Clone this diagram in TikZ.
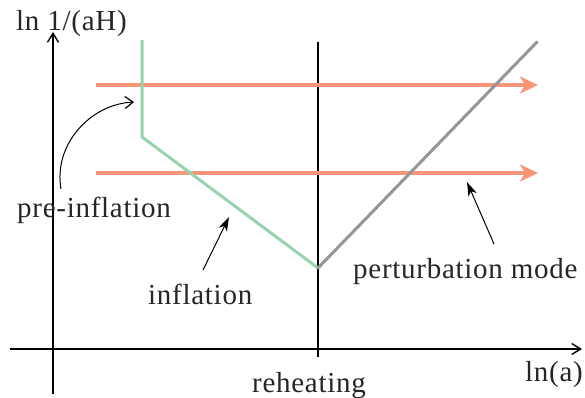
\documentclass[tikz,border=0pt]{standalone}
\usepackage{fontspec}
\setmainfont{Liberation Serif}
\newfontfamily\lblfont{Liberation Serif}[LetterSpace=2.5]
\usetikzlibrary{arrows.meta}
\definecolor{modeorange}{RGB}{249,150,120}
\definecolor{infgreen}{RGB}{150,212,172}
\definecolor{radgray}{RGB}{150,150,152}
\tikzset{
  axis/.style={line width=1.2pt, -{Straight Barb[length=9pt,width=11pt,line width=1.4pt]}},
  guide/.style={line width=1.1pt},
  mode/.style={modeorange, line width=3.2pt, -{Stealth[length=18pt,width=17pt,inset=5pt]}, shorten >=-2pt},
  curve/.style={line width=3pt},
  pointer/.style={line width=1pt, -{Stealth[length=14pt,width=9pt,inset=4pt]}},
  lbl/.style={font=\lblfont\fontsize{29}{32}\selectfont, inner sep=0pt, anchor=base west, text=black!85},
}
\begin{document}
\begin{tikzpicture}[x=1pt,y=-1pt]
\useasboundingbox (0,0) rectangle (585,398);
% axes
\coordinate (xs) at (10,349);
\coordinate (xe) at (582,349);
\coordinate (ys) at (53,394);
\coordinate (ye) at (53,32);
\draw[axis] (xs) -- (xe);
\draw[axis] (ys) -- (ye);
% reheating line
\coordinate (rt) at (318,42);
\coordinate (rb) at (318,357);
\draw[guide] (rt) -- (rb);
% green (pre-inflation + inflation)
\coordinate (g0) at (142,40);
\coordinate (g1) at (142,137);
\coordinate (g2) at (318,268);
\coordinate (g3) at (537,42);
% perturbation modes
\coordinate (m1s) at (96,85);
\coordinate (m1e) at (536,85);
\coordinate (m2s) at (96,173);
\coordinate (m2e) at (536,173);
\draw[mode] (m1s) -- (m1e);
\draw[mode] (m2s) -- (m2e);
\draw[curve, infgreen, line join=miter] (g0) -- (g1) -- (g2);
\draw[curve, radgray, line cap=round] (g2) -- (g3);
% labels
\node[lbl] (yl) at (16,31) {ln 1/(aH)};
\node[lbl] (pre) at (17,217) {pre-inflation};
\node[lbl] (inf) at (148,304) {inflation};
\node[lbl] (pm) at (353,278) {perturbation mode};
\node[lbl] (reh) at (252,392) {reheating};
\node[lbl] (xl) at (525,381) {ln(a)};
% pointers
\coordinate (c1s) at (61,189);
\coordinate (c1e) at (134,102);
\draw[line width=1pt, -{Straight Barb[length=8pt,width=12pt,line width=1.2pt]}] (c1s) to[out=100,in=183] (c1e);
\coordinate (c2s) at (203,270);
\coordinate (c2e) at (229,217);
\draw[pointer] (c2s) -- (c2e);
\coordinate (c3s) at (494,244);
\coordinate (c3e) at (467,182);
\draw[pointer] (c3s) -- (c3e);
\end{tikzpicture}
\end{document}
